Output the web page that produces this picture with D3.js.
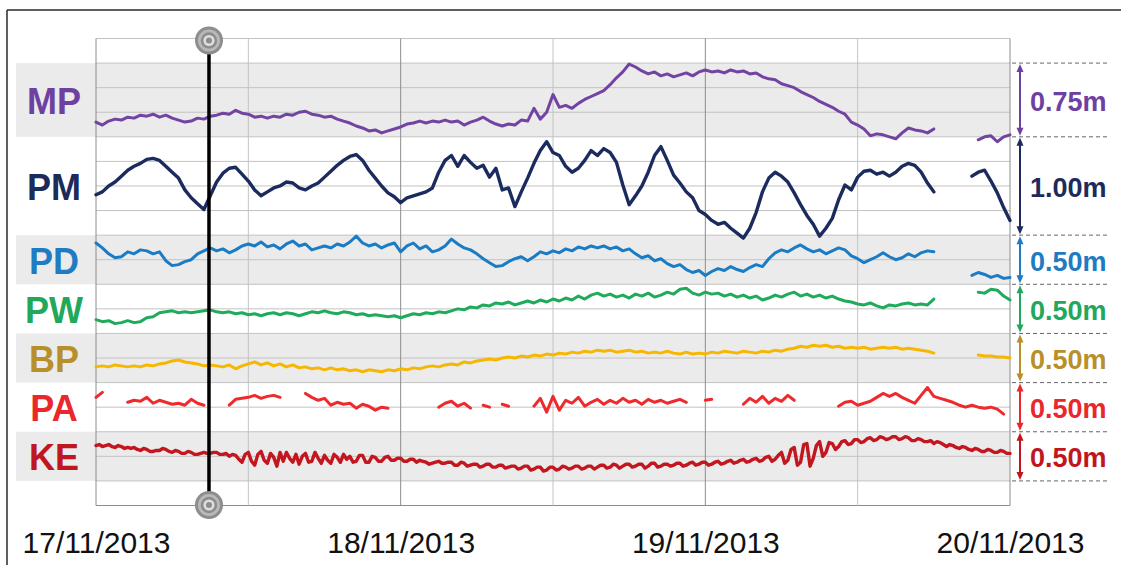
<!DOCTYPE html>
<html>
<head>
<meta charset="utf-8">
<script src="https://cdn.jsdelivr.net/npm/d3@7"></script>
<style>
  html, body { margin: 0; padding: 0; background: #fff; }
  svg { display: block; font-family: "Liberation Sans", Arial, sans-serif; }
</style>
</head>
<body>
<svg id="chart" width="1121" height="565"></svg>
<script>
// ---- data -------------------------------------------------------------
const dayLabels = ["17/11/2013", "18/11/2013", "19/11/2013", "20/11/2013"];
const dayDates = ["2013-11-17T00:00", "2013-11-18T00:00", "2013-11-19T00:00", "2013-11-20T00:00"];
const seriesNames = ["MP", "PM", "PD", "PW", "BP", "PA", "KE"];
const bandSpans = [0.75, 1.00, 0.50, 0.50, 0.50, 0.50, 0.50];          // metres
const spanLabels = ["0.75m", "1.00m", "0.50m", "0.50m", "0.50m", "0.50m", "0.50m"];
const sampleStart = "2013-11-17T00:00";
const sampleStepMinutes = [30, 30, 30, 30, 30, 30, 15];                 // per series
const markerTime = "2013-11-17T08:54";

// displacement (m) above the bottom of each band; null = no record
const MP = [0.15,0.12,0.16,0.18,0.17,0.20,0.19,0.22,0.21,0.23,
  0.20,0.22,0.19,0.17,0.15,0.16,0.19,0.18,0.21,0.22,
  0.24,0.23,0.27,0.24,0.23,0.20,0.21,0.19,0.21,0.20,
  0.23,0.22,0.25,0.26,0.23,0.22,0.20,0.21,0.18,0.16,
  0.14,0.11,0.09,0.06,0.07,0.04,0.06,0.08,0.10,0.13,
  0.14,0.16,0.14,0.16,0.15,0.17,0.15,0.16,0.12,0.15,
  0.17,0.20,0.16,0.13,0.11,0.13,0.12,0.17,0.16,0.29,
  0.18,0.25,0.43,0.30,0.32,0.29,0.34,0.38,0.41,0.44,
  0.47,0.53,0.60,0.66,0.74,0.71,0.67,0.64,0.66,0.62,
  0.64,0.61,0.63,0.65,0.62,0.66,0.68,0.66,0.67,0.65,
  0.68,0.66,0.67,0.64,0.65,0.61,0.59,0.58,0.54,0.52,
  0.50,0.46,0.43,0.40,0.36,0.33,0.30,0.26,0.23,0.15,
  0.12,0.08,0.01,0.03,0.02,0.00,-0.02,0.04,0.09,0.07,
  0.06,0.04,0.08,null,null,null,null,null,null,-0.03,
  0.00,0.01,-0.05,0.00,0.02];
const PM = [0.41,0.44,0.50,0.54,0.60,0.66,0.70,0.73,0.77,0.78,
  0.76,0.70,0.64,0.58,0.46,0.38,0.32,0.26,0.40,0.54,
  0.63,0.68,0.69,0.62,0.55,0.46,0.40,0.44,0.48,0.50,
  0.54,0.53,0.48,0.46,0.50,0.53,0.59,0.65,0.71,0.76,
  0.80,0.82,0.76,0.66,0.58,0.50,0.43,0.39,0.33,0.38,
  0.40,0.42,0.44,0.48,0.64,0.76,0.81,0.70,0.81,0.74,
  0.68,0.71,0.59,0.68,0.46,0.48,0.29,0.44,0.58,0.73,
  0.86,0.95,0.84,0.81,0.70,0.64,0.68,0.76,0.86,0.81,
  0.88,0.84,0.74,0.51,0.31,0.40,0.50,0.64,0.81,0.90,
  0.76,0.61,0.53,0.44,0.38,0.25,0.21,0.15,0.11,0.13,
  0.07,0.02,-0.03,0.07,0.23,0.44,0.58,0.64,0.60,0.54,
  0.43,0.31,0.20,0.11,-0.01,0.07,0.17,0.36,0.51,0.46,
  0.59,0.65,0.66,0.62,0.64,0.60,0.64,0.70,0.73,0.71,
  0.64,0.53,0.44,null,null,null,null,null,0.60,0.64,
  0.66,0.55,0.43,0.28,0.15];
const PD = [0.42,0.37,0.31,0.27,0.28,0.33,0.31,0.35,0.34,0.31,
  0.33,0.24,0.19,0.20,0.23,0.25,0.31,0.34,0.37,0.34,
  0.36,0.32,0.35,0.39,0.41,0.39,0.43,0.38,0.40,0.36,
  0.41,0.44,0.39,0.41,0.35,0.37,0.39,0.37,0.41,0.39,
  0.43,0.49,0.42,0.39,0.41,0.37,0.40,0.42,0.33,0.39,
  0.42,0.36,0.39,0.33,0.35,0.39,0.46,0.41,0.37,0.35,
  0.31,0.26,0.22,0.18,0.19,0.23,0.26,0.28,0.24,0.28,
  0.33,0.31,0.34,0.32,0.36,0.34,0.38,0.36,0.39,0.37,
  0.39,0.36,0.38,0.34,0.36,0.31,0.27,0.29,0.24,0.26,
  0.21,0.18,0.20,0.15,0.12,0.14,0.09,0.13,0.16,0.14,
  0.18,0.15,0.13,0.17,0.20,0.18,0.26,0.32,0.35,0.33,
  0.37,0.40,0.36,0.33,0.35,0.31,0.34,0.37,0.35,0.29,
  0.26,0.22,0.25,0.28,0.32,0.28,0.25,0.27,0.31,0.28,
  0.32,0.34,0.33,null,null,null,null,null,0.09,0.12,
  0.10,0.07,0.09,0.06,0.07];
const PW = [0.14,0.12,0.13,0.10,0.11,0.13,0.11,0.12,0.16,0.17,
  0.21,0.22,0.23,0.21,0.22,0.21,0.22,0.23,0.24,0.22,
  0.21,0.22,0.20,0.21,0.19,0.20,0.18,0.20,0.21,0.19,
  0.21,0.20,0.18,0.20,0.22,0.21,0.23,0.21,0.20,0.22,
  0.21,0.19,0.20,0.18,0.19,0.18,0.17,0.18,0.16,0.18,
  0.20,0.19,0.21,0.20,0.22,0.21,0.23,0.25,0.24,0.27,
  0.26,0.29,0.28,0.31,0.30,0.32,0.29,0.31,0.33,0.31,
  0.34,0.32,0.35,0.33,0.36,0.34,0.38,0.35,0.39,0.41,
  0.38,0.40,0.37,0.39,0.36,0.40,0.38,0.41,0.37,0.39,
  0.42,0.40,0.45,0.46,0.41,0.39,0.42,0.40,0.41,0.38,
  0.40,0.37,0.39,0.36,0.38,0.34,0.36,0.39,0.37,0.40,
  0.42,0.38,0.40,0.37,0.39,0.36,0.38,0.35,0.33,0.32,
  0.30,0.29,0.31,0.28,0.26,0.29,0.28,0.30,0.31,0.29,
  0.30,0.29,0.35,null,null,null,null,null,null,0.42,
  0.41,0.45,0.44,0.38,0.34];
const BP = [0.16,0.17,0.16,0.18,0.17,0.16,0.17,0.16,0.18,0.17,
  0.19,0.20,0.22,0.23,0.21,0.20,0.19,0.17,0.18,0.17,
  0.16,0.18,0.14,0.17,0.19,0.21,0.18,0.20,0.17,0.19,
  0.16,0.18,0.15,0.16,0.14,0.15,0.13,0.15,0.13,0.14,
  0.12,0.13,0.11,0.13,0.12,0.11,0.13,0.12,0.14,0.13,
  0.15,0.14,0.16,0.17,0.16,0.18,0.19,0.18,0.21,0.20,
  0.22,0.23,0.24,0.23,0.25,0.26,0.25,0.27,0.26,0.28,
  0.27,0.29,0.28,0.30,0.29,0.31,0.30,0.32,0.31,0.33,
  0.32,0.33,0.31,0.32,0.33,0.31,0.32,0.30,0.31,0.30,
  0.32,0.30,0.29,0.31,0.29,0.30,0.29,0.31,0.30,0.32,
  0.31,0.30,0.32,0.31,0.30,0.32,0.31,0.33,0.32,0.34,
  0.35,0.37,0.36,0.38,0.37,0.38,0.36,0.37,0.35,0.36,
  0.35,0.36,0.34,0.35,0.36,0.35,0.36,0.34,0.35,0.34,
  0.33,0.32,0.30,null,null,null,null,null,null,0.28,
  0.27,0.27,0.26,0.26,0.25];
const PA = [0.35,0.40,null,null,null,0.30,0.32,0.31,0.35,0.29,
  0.32,0.30,0.28,0.29,0.27,0.33,0.29,0.27,null,null,
  null,0.27,0.33,0.34,0.35,0.37,0.34,0.36,0.37,0.35,
  null,null,null,0.39,0.35,0.32,0.34,0.27,0.30,0.28,
  0.29,0.24,0.28,0.26,0.22,0.25,0.24,null,null,null,
  null,null,null,null,0.25,0.29,0.31,0.26,0.29,0.24,
  null,0.27,0.25,null,0.28,0.26,null,null,null,0.26,
  0.34,0.20,0.36,0.22,0.32,0.29,0.35,0.26,0.30,0.33,
  0.28,0.32,0.29,0.34,0.30,0.32,0.28,0.33,0.30,0.32,
  0.29,0.31,0.33,0.30,null,null,0.32,0.33,null,null,
  null,null,0.28,0.34,0.30,0.36,0.29,0.34,0.31,0.37,
  0.32,null,null,null,null,null,null,0.26,0.30,0.31,
  0.27,0.29,0.31,0.35,0.39,0.36,0.39,0.35,0.32,0.29,
  0.37,0.45,0.36,0.34,0.32,0.30,0.27,0.25,0.27,0.25,
  0.24,0.25,0.23,0.18,null];
// KE is logged every 15 minutes
const KE = [0.36,0.37,0.35,0.36,0.37,0.35,0.34,0.36,0.35,0.33,0.34,0.33,
  0.34,0.32,0.31,0.33,0.32,0.30,0.30,0.31,0.31,0.33,0.32,0.30,
  0.29,0.31,0.30,0.28,0.28,0.30,0.29,0.27,0.27,0.28,0.29,0.28,
  0.28,0.29,0.29,0.27,0.27,0.28,0.25,0.27,0.26,0.22,0.19,0.27,
  0.29,0.20,0.16,0.27,0.30,0.21,0.18,0.28,0.24,0.15,0.29,0.20,
  0.29,0.23,0.19,0.27,0.17,0.25,0.28,0.19,0.20,0.29,0.23,0.18,
  0.26,0.21,0.18,0.27,0.24,0.19,0.27,0.22,0.25,0.19,0.20,0.26,
  0.26,0.19,0.19,0.25,0.24,0.20,0.20,0.24,0.25,0.21,0.21,0.23,
  0.23,0.20,0.20,0.22,0.22,0.19,0.21,0.20,0.19,0.17,0.18,0.19,
  0.20,0.18,0.18,0.19,0.19,0.16,0.16,0.19,0.18,0.15,0.16,0.17,
  0.17,0.14,0.15,0.17,0.17,0.14,0.14,0.16,0.16,0.13,0.14,0.15,
  0.15,0.12,0.13,0.15,0.15,0.11,0.12,0.14,0.14,0.10,0.11,0.14,
  0.14,0.11,0.12,0.15,0.14,0.12,0.13,0.15,0.15,0.12,0.13,0.15,
  0.15,0.12,0.14,0.16,0.16,0.13,0.14,0.17,0.16,0.13,0.15,0.17,
  0.17,0.14,0.15,0.17,0.17,0.13,0.15,0.18,0.18,0.14,0.15,0.17,
  0.17,0.15,0.16,0.18,0.18,0.15,0.16,0.18,0.19,0.16,0.17,0.19,
  0.19,0.16,0.17,0.19,0.20,0.17,0.18,0.20,0.21,0.18,0.19,0.21,
  0.22,0.19,0.20,0.22,0.23,0.20,0.21,0.24,0.25,0.20,0.22,0.26,
  0.29,0.18,0.21,0.32,0.34,0.16,0.19,0.37,0.38,0.15,0.23,0.36,
  0.40,0.25,0.29,0.39,0.38,0.32,0.35,0.40,0.41,0.37,0.38,0.42,
  0.42,0.39,0.40,0.43,0.44,0.41,0.42,0.45,0.44,0.42,0.43,0.45,
  0.45,0.42,0.43,0.45,0.44,0.41,0.41,0.43,0.42,0.40,0.40,0.41,
  0.38,0.40,0.39,0.37,0.35,0.37,0.36,0.34,0.33,0.35,0.34,0.32,
  0.31,0.33,0.32,0.30,0.30,0.32,0.31,0.29,0.29,0.31,0.30,0.28,
  0.28];

const seriesValues = [MP, PM, PD, PW, BP, PA, KE];
const lineColors  = ["#7243a2", "#1b2b5e", "#1a7cc4", "#1fab5b", "#f7b600", "#ee2a2c", "#c3161f"];
const labelColors = ["#6e40a0", "#1c2b5b", "#1f7bc2", "#22a85a", "#b8902b", "#ea272b", "#c0161f"];
const lineWidths  = [3, 3.4, 3, 3, 3, 3, 3.4];
const shadedBand  = [true, false, true, false, true, false, true];

// ---- layout -----------------------------------------------------------
const svg = d3.select("#chart");
const plot = { left: 96, right: 1010, top: 38.5, bottom: 505.5 };
const margin = 0.25;                                   // empty metres above and below the stack
const total = d3.sum(bandSpans) + 2 * margin;

const parse = d3.timeParse("%Y-%m-%dT%H:%M");
const t0 = parse(dayDates[0]), t1 = parse(dayDates[dayDates.length - 1]);
const x = d3.scaleTime().domain([t0, t1]).range([plot.left, plot.right]);
const y = d3.scaleLinear().domain([0, total]).range([plot.bottom, plot.top]);

// band bases stacked from the bottom (KE at the bottom, MP on top)
const bases = [];
{
  let acc = margin;
  for (let i = seriesNames.length - 1; i >= 0; i--) { bases[i] = acc; acc += bandSpans[i]; }
}

const start = parse(sampleStart);

// frame
svg.append("line").attr("x1", 7).attr("x2", 1121).attr("y1", 10).attr("y2", 10)
  .attr("stroke", "#2a2a2a").attr("stroke-width", 1.5);
svg.append("line").attr("x1", 7).attr("x2", 7).attr("y1", 10).attr("y2", 565)
  .attr("stroke", "#2a2a2a").attr("stroke-width", 1.5);

// shaded bands (label column + plot)
seriesNames.forEach((name, i) => {
  if (!shadedBand[i]) return;
  svg.append("rect")
    .attr("x", 16).attr("width", plot.right - 16)
    .attr("y", y(bases[i] + bandSpans[i]))
    .attr("height", y(bases[i]) - y(bases[i] + bandSpans[i]))
    .attr("fill", "#ebebeb");
});

// horizontal grid every 0.25 m
const grid = svg.append("g");
grid.selectAll("line.h").data(d3.range(0, total + 1e-6, 0.25)).join("line")
  .attr("x1", plot.left).attr("x2", plot.right)
  .attr("y1", d => y(d)).attr("y2", d => y(d))
  .attr("stroke", d => d === 0 ? "#8c8c8c" : "#c3c3c3").attr("stroke-width", 1);

// vertical grid every 12 h, darker at midnight
grid.selectAll("line.v").data(d3.timeHour.every(12).range(t0, d3.timeHour.offset(t1, 1))).join("line")
  .attr("x1", d => x(d)).attr("x2", d => x(d))
  .attr("y1", plot.top).attr("y2", plot.bottom)
  .attr("stroke", d => d.getHours() === 0 ? "#8c8c8c" : "#c3c3c3").attr("stroke-width", 1);

// series lines
seriesValues.forEach((vals, i) => {
  const step = sampleStepMinutes[i];
  const line = d3.line()
    .defined(v => v !== null)
    .x((v, k) => x(d3.timeMinute.offset(start, k * step)))
    .y(v => y(bases[i] + v));
  svg.append("path")
    .attr("d", line(vals))
    .attr("fill", "none")
    .attr("stroke", lineColors[i])
    .attr("stroke-width", lineWidths[i])
    .attr("stroke-linejoin", "round")
    .attr("stroke-linecap", "round");
});

// time cursor with its two handles
const mx = x(parse(markerTime));
svg.append("line").attr("x1", mx).attr("x2", mx).attr("y1", 40).attr("y2", 505)
  .attr("stroke", "#000").attr("stroke-width", 3.5);
function handle(cy) {
  const g = svg.append("g").attr("transform", `translate(${mx},${cy})`);
  [[14, "#8d8d8d"], [11, "#b9b9b9"], [8.2, "#8d8d8d"], [5.6, "#dedede"], [3, "#8d8d8d"]]
    .forEach(([r, c]) => g.append("circle").attr("r", r).attr("fill", c));
}
handle(40.5);
handle(505);

// band names on the left
seriesNames.forEach((name, i) => {
  const mid = y(bases[i] + bandSpans[i] / 2);
  svg.append("text")
    .attr("x", 54).attr("y", mid + 14)
    .attr("text-anchor", "middle")
    .attr("font-size", 36).attr("font-weight", "bold")
    .attr("fill", labelColors[i])
    .text(name);
});

// span markers on the right
const boundaries = [];
seriesNames.forEach((n, i) => { boundaries.push(bases[i] + bandSpans[i]); });
boundaries.push(margin);
svg.selectAll("line.dash").data(boundaries).join("line")
  .attr("x1", 1012).attr("x2", 1110)
  .attr("y1", d => y(d)).attr("y2", d => y(d))
  .attr("stroke", "#666").attr("stroke-width", 1).attr("stroke-dasharray", "4,3");

const ax = 1020;
seriesNames.forEach((name, i) => {
  const top = y(bases[i] + bandSpans[i]) + 1, bot = y(bases[i]) - 1;
  const c = labelColors[i];
  svg.append("line").attr("x1", ax).attr("x2", ax).attr("y1", top + 5).attr("y2", bot - 5)
    .attr("stroke", c).attr("stroke-width", 2);
  svg.append("path").attr("d", `M${ax},${top} L${ax - 3.5},${top + 8} L${ax + 3.5},${top + 8} Z`).attr("fill", c);
  svg.append("path").attr("d", `M${ax},${bot} L${ax - 3.5},${bot - 8} L${ax + 3.5},${bot - 8} Z`).attr("fill", c);
  const mid = y(bases[i] + bandSpans[i] / 2);
  svg.append("text")
    .attr("x", 1030).attr("y", mid + 11)
    .attr("font-size", 27).attr("font-weight", "bold")
    .attr("fill", c)
    .text(spanLabels[i]);
});

// date axis
const axis = d3.axisBottom(x)
  .tickValues(dayDates.map(parse))
  .tickFormat((d, i) => dayLabels[i])
  .tickSize(0).tickPadding(26);
const axG = svg.append("g").attr("transform", `translate(0,${plot.bottom})`).call(axis);
axG.select(".domain").remove();
axG.selectAll("text")
  .attr("font-size", 30)
  .attr("font-family", "'Liberation Sans', Arial, sans-serif")
  .attr("fill", "#111");
</script>
</body>
</html>
